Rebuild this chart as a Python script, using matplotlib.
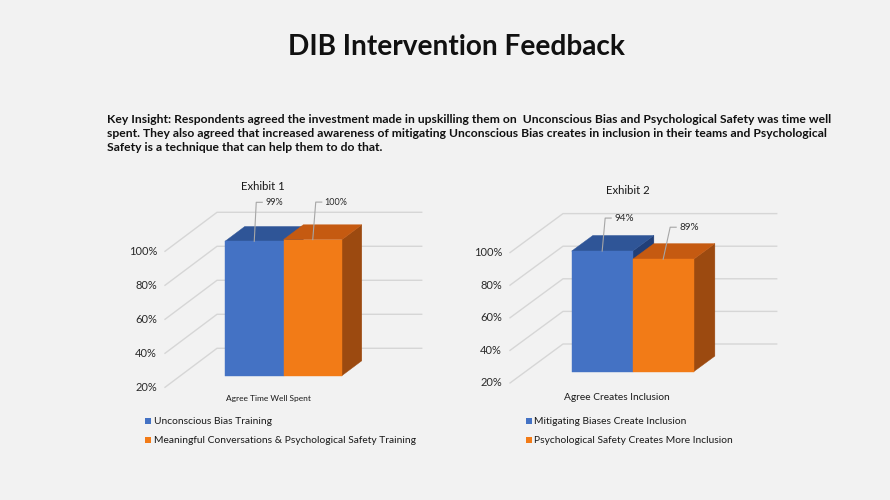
import matplotlib.pyplot as plt
from matplotlib.patches import Polygon, Rectangle

W, H = 890, 500

title = 'DIB Intervention Feedback'
insight = [
    'Key Insight: Respondents agreed the investment made in upskilling them on  Unconscious Bias and Psychological Safety was time well',
    'spent. They also agreed that increased awareness of mitigating Unconscious Bias creates in inclusion in their teams and Psychological',
    'Safety is a technique that can help them to do that.',
]

tick_values = [20, 40, 60, 80, 100]
tick_labels = ['20%', '40%', '60%', '80%', '100%']

ex1_title = 'Exhibit 1'
ex1_category = 'Agree Time Well Spent'
ex1_series = ['Unconscious Bias Training',
              'Meaningful Conversations & Psychological Safety Training']
ex1_values = [99, 100]

ex2_title = 'Exhibit 2'
ex2_category = 'Agree Creates Inclusion'
ex2_series = ['Mitigating Biases Create Inclusion',
              'Psychological Safety Creates More Inclusion']
ex2_values = [94, 89]

front_colors = ['#4472c4', '#f27b17']
top_colors = ['#2f5597', '#c55a11']
side_colors = ['#213f78', '#9c4a10']
legend_colors = ['#4472c4', '#f27b17']

plt.rcParams['font.family'] = ['Lato', 'DejaVu Sans']

fig = plt.figure(figsize=(W / 100, H / 100), dpi=100)
fig.patch.set_facecolor('#f2f2f2')
renderer = fig.canvas.get_renderer()

# overlay axes in pixel coordinates for the page text
ov = fig.add_axes([0, 0, 1, 1])
ov.set_xlim(0, W)
ov.set_ylim(H, 0)
ov.axis('off')


def fit(t, width):
    w = t.get_window_extent(renderer).width
    t.set_fontsize(t.get_fontsize() * width / w)
    return t.get_fontsize()


t = ov.text(456.5, 55, title, ha='center', va='baseline', fontsize=18,
            fontweight='bold', color='#111111')
fit(t, 337)

size = None
for k, line in enumerate(insight):
    t = ov.text(107.3, 123.3 + 14 * k, line, ha='left', va='baseline',
                fontsize=size or 9, fontweight='bold', color='#111111')
    if size is None:
        size = fit(t, 719)


def draw_exhibit(name, category, series, values, geo):
    ax = fig.add_axes([0, 0, 1, 1])
    ax.axis('off')
    ux, up = geo['px_unit'], geo['px_pct']
    x0, y20 = geo['origin']
    ax.set_xlim(-x0 / ux, (W - x0) / ux)
    ax.set_ylim(20 - (H - y20) / up, 20 + y20 / up)
    dx = geo['depth'][0] / ux
    dy = geo['depth'][1] / up

    def proj(x, v, d):
        return (x + d * dx, v + d * dy)

    # walls: gridlines run from the front edge back to the wall
    gx = (geo['grid_x'] - x0) / ux
    wall = (geo['wall_x'] - x0) / ux
    for v, lab in zip(tick_values, tick_labels):
        ax.plot([gx, gx + dx, wall], [v, v + dy, v + dy],
                color='#d6d6d6', lw=1, zorder=0.5)
        ax.annotate(lab, (gx, v), xytext=(-8, 0), textcoords='offset pixels',
                    ha='right', va='center', fontsize=8, color='#2a2a2a')

    f0, f1 = geo['bar_depth']
    base = tick_values[0]
    anchors = []
    for i, val in enumerate(values):
        xl, xr = i - 1, i
        side = [proj(xr, base, f0), proj(xr, base, f1),
                proj(xr, val, f1), proj(xr, val, f0)]
        top = [proj(xl, val, f0), proj(xr, val, f0),
               proj(xr, val, f1), proj(xl, val, f1)]
        front = [proj(xl, base, f0), proj(xr, base, f0),
                 proj(xr, val, f0), proj(xl, val, f0)]
        for pts, c in [(side, side_colors[i]), (top, top_colors[i]),
                       (front, front_colors[i])]:
            ax.add_patch(Polygon(pts, closed=True, facecolor=c,
                                 edgecolor=c, lw=0.3, zorder=1))
        anchors.append(proj((xl + xr) / 2, val, f0))

    # data labels with leader lines
    for i, val in enumerate(values):
        px, py = anchors[i]
        ox, oy = geo['label_offsets'][i]
        tx, ty = px + ox / ux, py + oy / up
        sx = tx + 6 / ux
        ax.plot([px, tx, sx], [py, ty, ty], color='#a6a6a6', lw=0.8,
                zorder=3)
        ax.text(sx + 3 / ux, ty, f'{val}%', ha='left', va='center',
                fontsize=geo['label_size'], color='#2a2a2a', zorder=3)

    # title, category and legend on the pixel overlay
    t = ov.text(*geo['title_xy'], name, ha='center', va='baseline',
                fontsize=8.5, color='#1a1a1a')
    fit(t, 44)
    t = ov.text(*geo['cat_xy'], category, ha='center', va='baseline',
                fontsize=7, color='#1a1a1a')
    fit(t, geo['cat_w'])

    lx = geo['legend_x']
    rows = [421, 440]
    lsize = None
    for i in [1, 0]:
        ov.add_patch(Rectangle((lx, rows[i] - 3), 6, 6,
                               facecolor=legend_colors[i], edgecolor='none'))
        t = ov.text(lx + 8.5, rows[i] + 3, series[i], ha='left',
                    va='baseline', fontsize=lsize or 7.5, color='#1a1a1a')
        if lsize is None:
            lsize = fit(t, geo['legend_w'])


geo1 = dict(origin=(267.9, 387.3), px_unit=58.5, px_pct=1.70, depth=(52, 39),
            bar_depth=(0.30, 0.68), grid_x=165, wall_x=421.7,
            label_offsets=[(2, 39), (3, 37.5)], label_size=6.5,
            title_xy=(263, 189.5), cat_xy=(268.5, 401.5), cat_w=85,
            legend_x=145, legend_w=261)
geo2 = dict(origin=(617.3, 383), px_unit=61, px_pct=1.63, depth=(53, 39),
            bar_depth=(0.29, 0.69), grid_x=510, wall_x=776.7,
            label_offsets=[(3, 33), (7, 32)], label_size=7.2,
            title_xy=(628, 194.5), cat_xy=(617, 400), cat_w=106,
            legend_x=526, legend_w=198)

draw_exhibit(ex1_title, ex1_category, ex1_series, ex1_values, geo1)
draw_exhibit(ex2_title, ex2_category, ex2_series, ex2_values, geo2)

fig.savefig('out.png', dpi=100, facecolor=fig.get_facecolor())
